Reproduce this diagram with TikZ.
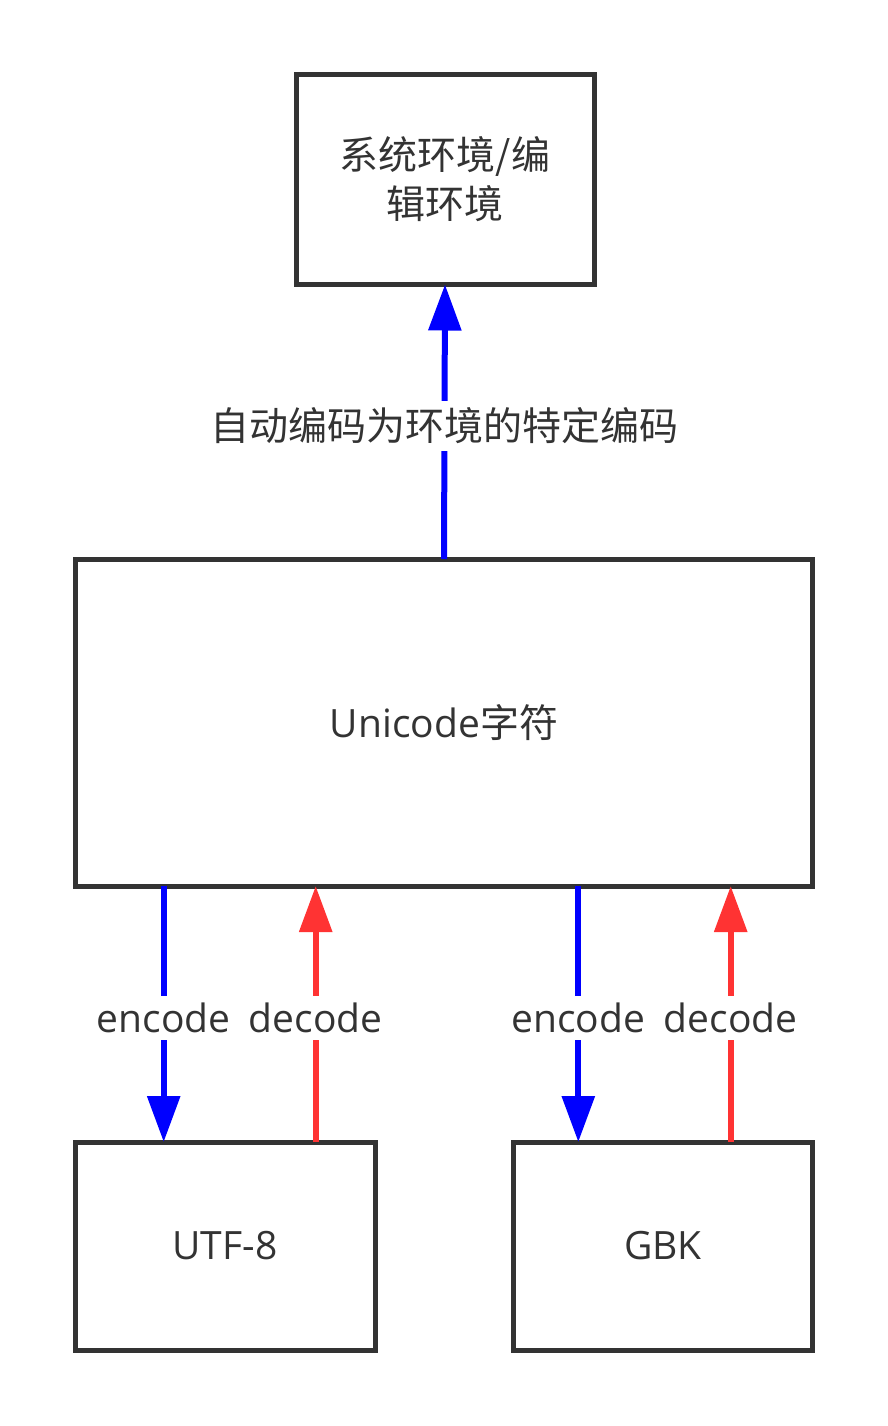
\documentclass[tikz,border=0pt]{standalone}
\usepackage{fontspec}
\setmainfont{Open Sans}
\newfontfamily\cjk{Noto Sans CJK SC}
\usetikzlibrary{arrows.meta}
\definecolor{ink}{HTML}{333333}
\definecolor{encblue}{HTML}{0000FF}
\definecolor{decred}{HTML}{FF3333}

\begin{document}
\begin{tikzpicture}[x=1pt, y=-1pt,
    every node/.style={text=ink, font=\fontsize{39}{49}\selectfont},
    box/.style={draw=ink, line width=5pt, fill=white, inner sep=0pt, outer sep=0pt, align=center},
    link/.style={line width=6pt, -{Triangle[length=46pt, width=32pt]}},
    lbl/.style={fill=white, draw=none, inner xsep=4pt, inner ysep=7pt}]
    \useasboundingbox (0,0) rectangle (888,1426);

    \node [box, minimum width=298pt, minimum height=210pt] (env) at (445,179.5) {\cjk 系统环境/编\\\cjk 辑环境};
    \node [box, minimum width=737pt, minimum height=327pt] (uni) at (444,722.5) {Unicode{\cjk 字符}};
    \node [box, minimum width=300pt, minimum height=208pt] (utf) at (225,1246) {UTF-8};
    \node [box, minimum width=299pt, minimum height=208pt] (gbk) at (663,1246) {GBK};

    \coordinate (e1) at (163.7,0);
    \coordinate (d1) at (315.7,0);
    \coordinate (e2) at (578.3,0);
    \coordinate (d2) at (730.7,0);

    \draw [link, encblue] (uni.north) -- (env.south) coordinate [midway] (m0);
    \draw [link, encblue] (uni.south -| e1) -- (utf.north -| e1) coordinate [midway] (m1);
    \draw [link, decred] (utf.north -| d1) -- (uni.south -| d1) coordinate [midway] (m2);
    \draw [link, encblue] (uni.south -| e2) -- (gbk.north -| e2) coordinate [midway] (m3);
    \draw [link, decred] (gbk.north -| d2) -- (uni.south -| d2) coordinate [midway] (m4);

    \node [lbl, yshift=-4pt] (l0) at (m0) {\cjk 自动编码为环境的特定编码};
    \node [lbl, yshift=-4pt] (l1) at (m1) {encode};
    \node [lbl, yshift=-4pt] (l2) at (m2) {decode};
    \node [lbl, yshift=-4pt] (l3) at (m3) {encode};
    \node [lbl, yshift=-4pt] (l4) at (m4) {decode};
  \end{tikzpicture}
\end{document}
